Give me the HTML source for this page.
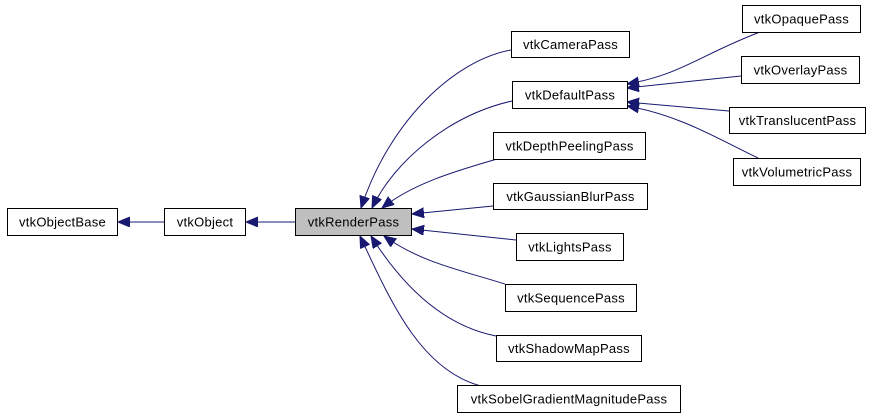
<!DOCTYPE html>
<html><head><meta charset="utf-8"><style>
html,body{margin:0;padding:0;background:#fff;}
svg{display:block;}
text{font-family:"Liberation Sans",sans-serif;font-size:13px;fill:#000;letter-spacing:0.25px;}
</style></head><body>
<svg width="877" height="417" viewBox="0 0 877 417" xmlns="http://www.w3.org/2000/svg">
<defs>
<marker id="a" markerWidth="13" markerHeight="11" refX="12" refY="5" orient="auto" markerUnits="userSpaceOnUse">
<path d="M0,0 L12,5 L0,10 z" fill="#191970" stroke="#191970"/>
</marker>
</defs>
<g fill="none" stroke="#191970" stroke-width="1" marker-end="url(#a)">
<path d="M164,222 L118,222"/>
<path d="M295,222 L246,222"/>
<path d="M511,50 C455,60 390,120 361,208"/>
<path d="M512,101 C450,115 395,160 372,208"/>
<path d="M497,159 C460,170 415,182 382,208"/>
<path d="M493,206 L412,214"/>
<path d="M516,240 L412,229"/>
<path d="M505,284 C460,270 420,262 384,236"/>
<path d="M496,336 C440,325 400,282 371,236"/>
<path d="M481,386 C420,370 390,300 360,236"/>
<path d="M760,32 C700,55 680,75 627,84"/>
<path d="M741,76 L627,88"/>
<path d="M729,111 L627,102"/>
<path d="M758,158 C720,140 680,115 627,106"/>
</g>
<g stroke="#000" stroke-width="1" fill="#fff">
<rect x="7.5" y="208.5" width="110" height="27"/>
<rect x="164.5" y="208.5" width="81" height="27"/>
<rect x="295.5" y="208.5" width="116" height="27" fill="#bfbfbf"/>
<rect x="511.5" y="31.5" width="118" height="26"/>
<rect x="512.5" y="81.5" width="115" height="27"/>
<rect x="493.5" y="132.5" width="152" height="27"/>
<rect x="493.5" y="183.5" width="154" height="26"/>
<rect x="516.5" y="233.5" width="107" height="27"/>
<rect x="505.5" y="284.5" width="131" height="27"/>
<rect x="496.5" y="335.5" width="145" height="26"/>
<rect x="457.5" y="385.5" width="223" height="27"/>
<rect x="742.5" y="5.5" width="118" height="27"/>
<rect x="741.5" y="56.5" width="118" height="27"/>
<rect x="729.5" y="107.5" width="136" height="26"/>
<rect x="733.5" y="158.5" width="127" height="27"/>
</g>
<g text-anchor="middle">
<text x="62.5" y="226.5">vtkObjectBase</text>
<text x="205" y="226.5">vtkObject</text>
<text x="353.5" y="226.5">vtkRenderPass</text>
<text x="570.5" y="49">vtkCameraPass</text>
<text x="570" y="99.5">vtkDefaultPass</text>
<text x="569.5" y="150.5">vtkDepthPeelingPass</text>
<text x="570.5" y="201">vtkGaussianBlurPass</text>
<text x="570" y="251.5">vtkLightsPass</text>
<text x="571" y="302.5">vtkSequencePass</text>
<text x="569" y="353">vtkShadowMapPass</text>
<text x="569" y="403.5">vtkSobelGradientMagnitudePass</text>
<text x="801.5" y="23.5">vtkOpaquePass</text>
<text x="800.5" y="74.5">vtkOverlayPass</text>
<text x="797.5" y="125">vtkTranslucentPass</text>
<text x="797" y="176.5">vtkVolumetricPass</text>
</g>
</svg>
</body></html>
